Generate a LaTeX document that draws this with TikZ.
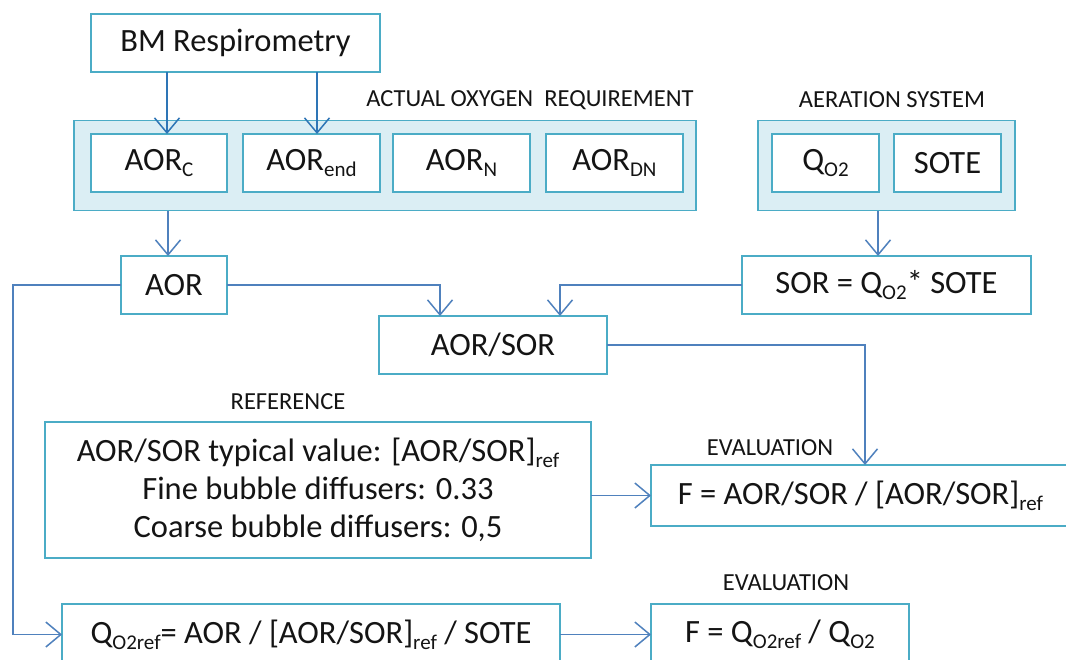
\documentclass[tikz,border=0pt]{standalone}
\usepackage{fontspec}
\setmainfont{Carlito}
\usetikzlibrary{arrows.meta}
\definecolor{boxc}{HTML}{4BACC6}
\definecolor{arrc}{HTML}{4F81BD}
\definecolor{arrd}{HTML}{2E75B6}
\definecolor{grpf}{HTML}{DBEEF4}
\definecolor{txt}{HTML}{141414}
\newcommand\sbs[1]{\raisebox{-0.18em}{\fontsize{21}{21}\selectfont #1}}
\begin{document}
\begin{tikzpicture}[x=1pt,y=-1pt,
 box/.style={draw=boxc, line width=1.6pt, fill=white, inner sep=0pt, outer sep=0pt, text=txt, font=\fontsize{32.5}{38}\selectfont, align=center},
 grp/.style={draw=boxc, line width=1.6pt, fill=grpf, inner sep=0pt, outer sep=0pt},
 lbl/.style={font=\fontsize{24.5}{28}\selectfont, text=txt, inner sep=0pt},
 arr/.style={draw=arrc, line width=1.4pt, -{Straight Barb[length=15pt,width=25pt,line width=1.5pt]}},
 arrb/.style={arr, draw=arrd},
]
\useasboundingbox (0,0) rectangle (1066,659);
\clip (0,0) rectangle (1066,659);
\fill[white] (0,0) rectangle (1066,659);

\node[box, minimum width=289, minimum height=58] (bm) at (235.5,43) {BM Respirometry};

\node[grp, minimum width=622, minimum height=90] (g1) at (385,165.5) {};
\node[lbl] (l1) at (530,100) {ACTUAL OXYGEN\ \ REQUIREMENT};
\node[box, minimum width=136, minimum height=58] (aorc) at (159,163) {AOR\sbs{C}};
\node[box, minimum width=137, minimum height=58] (aorend) at (311.5,163) {AOR\sbs{end}};
\node[box, minimum width=137, minimum height=58] (aorn) at (461.5,163) {AOR\sbs{N}};
\node[box, minimum width=137, minimum height=58] (aordn) at (614.5,163) {AOR\sbs{DN}};

\node[grp, minimum width=257, minimum height=90] (g2) at (886.5,165.5) {};
\node[lbl] (l2) at (892,100) {AERATION SYSTEM};
\node[box, minimum width=107, minimum height=58] (qo2) at (825.5,163) {Q\sbs{O2}};
\node[box, minimum width=107, minimum height=58] (sote) at (947.5,163) {SOTE};

\node[box, minimum width=106, minimum height=58] (aor) at (174,285) {AOR};
\node[box, minimum width=289, minimum height=58] (sor) at (886.5,285) {SOR = Q\sbs{O2}* SOTE};
\node[box, minimum width=228, minimum height=58] (aorsor) at (493,345) {AOR/SOR};

\node[lbl] (l3) at (288,402) {REFERENCE};
\node[box, minimum width=546, minimum height=136, font=\fontsize{32.5}{38}\selectfont] (ref) at (318,490)
  {AOR/SOR typical value: [AOR/SOR]\sbs{ref}\\Fine bubble\ diffusers: 0.33\\Coarse bubble diffusers: 0,5};

\node[lbl] (l4) at (770,448) {EVALUATION};
\node[box, minimum width=419, minimum height=61] (f1) at (860.5,495.5) {F = AOR/SOR / [AOR/SOR]\sbs{ref}};

\node[lbl] (l5) at (786,583) {EVALUATION};
\node[box, minimum width=498, minimum height=61] (qref) at (311,634.5) {Q\sbs{O2ref}= AOR / [AOR/SOR]\sbs{ref} / SOTE};
\node[box, minimum width=258, minimum height=61] (f2) at (780,634.5) {F = Q\sbs{O2ref} / Q\sbs{O2}};

\draw[arrb] (167,0 |- bm.south) -- (167,0 |- aorc.north);
\draw[arrb] (317,0 |- bm.south) -- (317,0 |- aorend.north);
\draw[arr] (168,0 |- g1.south) -- (168,0 |- aor.north);
\draw[arr] (878,0 |- g2.south) -- (878,0 |- sor.north);
\draw[arr] (aor.east) -- (440,0 |- aor.east) -- (440,0 |- aorsor.north);
\draw[arr] (sor.west) -- (560,0 |- sor.west) -- (560,0 |- aorsor.north);
\draw[arr] (aorsor.east) -- (865,0 |- aorsor.east) -- (865,0 |- f1.north);
\draw[arr] (aor.west) -- (13,0 |- aor.west) -- (13,0 |- qref.west) -- (qref.west);
\draw[arr] (ref.east |- f1.west) -- (f1.west);
\draw[arr] (qref.east) -- (f2.west);
\end{tikzpicture}
\end{document}
